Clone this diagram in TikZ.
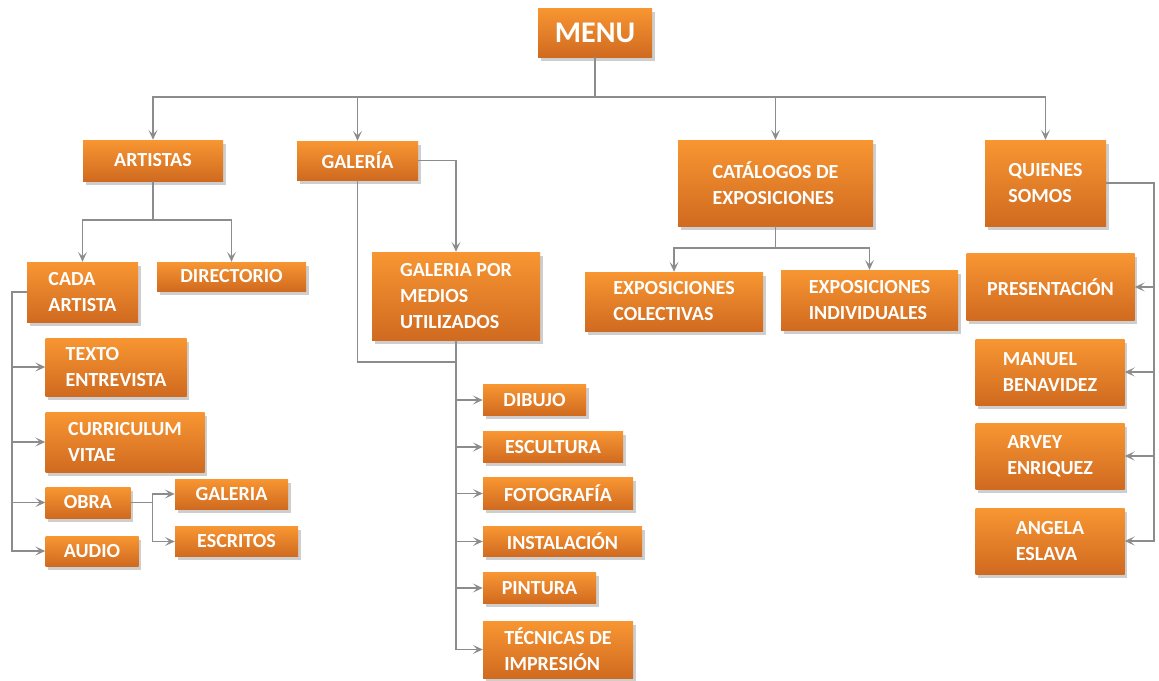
\documentclass[tikz,border=0pt]{standalone}
\usepackage{fontspec}
\setmainfont{Carlito}
\usepackage{xcolor}
\usepackage{tikz}
\usetikzlibrary{arrows.meta,calc,shadows}
\definecolor{boxtop}{RGB}{248,150,50}
\definecolor{boxbot}{RGB}{208,106,32}
\definecolor{wire}{RGB}{140,140,140}
\tikzset{
  box/.style={rectangle, inner sep=0pt, align=left, text=white,
    top color=boxtop, bottom color=boxbot, draw=none,
    drop shadow={shadow xshift=2.5pt, shadow yshift=-3.5pt, fill=black!35, opacity=.55},
    font=\bfseries\fontsize{20}{26}\selectfont},
  bigbox/.style={box, font=\bfseries\fontsize{30}{34}\selectfont},
  line/.style={draw=wire, line width=1.5pt},
  conn/.style={line, -{Stealth[length=10pt,width=9pt,inset=4.5pt]}}
}
\begin{document}
\begin{tikzpicture}[x=1pt,y=-1pt]
  \useasboundingbox (0,0) rectangle (1159,680);

  % top level
  \node[bigbox, minimum width=114, minimum height=49] (menu) at (595,32.5) {MENU};
  \node[box, minimum width=140, minimum height=41] (artistas) at (153,160.5) {ARTISTAS};
  \node[box, minimum width=121, minimum height=39] (galeria) at (357.5,160.5) {GALERÍA};
  \node[box, minimum width=195, minimum height=86] (catalogos) at (775.5,183) {CATÁLOGOS DE\\EXPOSICIONES};
  \node[box, minimum width=121, minimum height=86] (quienes) at (1045.5,183) {QUIENES\\SOMOS};

  % artistas
  \node[box, minimum width=111, minimum height=60] (cada) at (82.5,292) {CADA\\ARTISTA};
  \node[box, minimum width=149, minimum height=29] (directorio) at (231.5,276.5) {DIRECTORIO};
  \node[box, minimum width=141, minimum height=58] (texto) at (116,367) {TEXTO\\ENTREVISTA};
  \node[box, minimum width=159, minimum height=60] (cv) at (125,442) {CURRICULUM\\VITAE};
  \node[box, minimum width=85, minimum height=31] (obra) at (88,502.5) {OBRA};
  \node[box, minimum width=93, minimum height=30] (audio) at (92,551) {AUDIO};
  \node[box, minimum width=113, minimum height=30] (galobra) at (231.5,494) {GALERIA};
  \node[box, minimum width=123, minimum height=30] (escritos) at (236.5,541.5) {ESCRITOS};

  % galeria
  \node[box, minimum width=168, minimum height=88] (medios) at (456,296) {GALERIA POR\\MEDIOS\\UTILIZADOS};
  \node[box, minimum width=103, minimum height=31] (dibujo) at (534.5,400) {DIBUJO};
  \node[box, minimum width=140, minimum height=31] (escultura) at (553,447) {ESCULTURA};
  \node[box, minimum width=150, minimum height=32] (foto) at (558,493.5) {FOTOGRAFÍA};
  \node[box, minimum width=159, minimum height=30] (instal) at (562.5,541.5) {INSTALACIÓN};
  \node[box, minimum width=113, minimum height=31] (pintura) at (539.5,588) {PINTURA};
  \node[box, minimum width=150, minimum height=57] (tecnicas) at (558,649.5) {TÉCNICAS DE\\IMPRESIÓN};

  % catalogos
  \node[box, minimum width=178, minimum height=59] (colect) at (674,301.5) {EXPOSICIONES\\COLECTIVAS};
  \node[box, minimum width=177, minimum height=60] (indiv) at (869.5,300) {EXPOSICIONES\\INDIVIDUALES};

  % quienes somos
  \node[box, minimum width=168, minimum height=67] (present) at (1050.5,287) {PRESENTACIÓN};
  \node[box, minimum width=149, minimum height=66] (manuel) at (1050,372) {MANUEL\\BENAVIDEZ};
  \node[box, minimum width=149, minimum height=66] (arvey) at (1050,456) {ARVEY\\ENRIQUEZ};
  \node[box, minimum width=149, minimum height=66] (angela) at (1050,541) {ANGELA\\ESLAVA};

  % helper points
  \coordinate (bus) at (595,97);
  \coordinate (abus) at (153,220);
  \coordinate (cbus) at (775,248);
  \coordinate (mjoin) at (456,362);

  % connectors
  \foreach \n in {artistas,galeria,catalogos,quienes}
    \draw[conn] (menu) -- (menu |- bus) -| (\n);
  \foreach \n in {cada,directorio}
    \draw[conn] (artistas) -- (artistas |- abus) -| (\n);
  \foreach \n in {texto,cv,obra,audio}
    \draw[conn] (cada.west) -- ++(-15,0) |- (\n);
  \foreach \n in {galobra,escritos}
    \draw[conn] (obra.east) -- ++(22,0) |- (\n);
  \draw[conn] (galeria.east) -| (medios);
  \draw[line] (galeria) |- (mjoin);
  \foreach \n in {dibujo,escultura,foto,instal,pintura,tecnicas}
    \draw[conn] (medios.south) |- (\n);
  \foreach \n in {colect,indiv}
    \draw[conn] (catalogos) -- (catalogos |- cbus) -| (\n);
  \foreach \n in {present,manuel,arvey,angela}
    \draw[conn] (quienes.east) -- ++(48,0) |- (\n);
\end{tikzpicture}
\end{document}
